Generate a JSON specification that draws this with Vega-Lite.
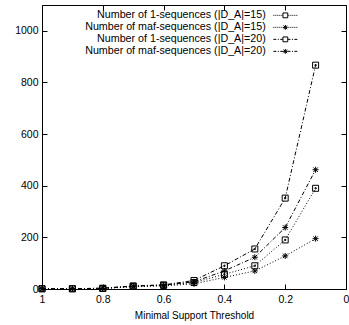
{
  "$schema": "https://vega.github.io/schema/vega-lite/v6.json",
  "width": 304,
  "height": 284,
  "autosize": {"type": "none"},
  "padding": {"left": 42, "top": 5, "right": 3, "bottom": 36},
  "background": "white",
  "config": {
    "view": {"stroke": "black", "strokeWidth": 1},
    "font": "Liberation Sans",
    "axis": {
      "domain": false, "grid": false, "tickSize": -5, "tickColor": "black", "tickWidth": 1,
      "labelFont": "Liberation Sans", "labelFontSize": 10.5, "labelColor": "black",
      "labelFlush": false, "labelOverlap": false,
      "titleFont": "Liberation Sans", "titleFontSize": 10, "titleFontWeight": "normal", "titleColor": "black"
    }
  },
  "data": {"values": [
    {"t": 1.0, "s": "Number of 1-sequences (|D_A|=15)", "n": 1},
    {"t": 0.9, "s": "Number of 1-sequences (|D_A|=15)", "n": 1},
    {"t": 0.8, "s": "Number of 1-sequences (|D_A|=15)", "n": 2},
    {"t": 0.7, "s": "Number of 1-sequences (|D_A|=15)", "n": 10},
    {"t": 0.6, "s": "Number of 1-sequences (|D_A|=15)", "n": 14},
    {"t": 0.5, "s": "Number of 1-sequences (|D_A|=15)", "n": 25},
    {"t": 0.4, "s": "Number of 1-sequences (|D_A|=15)", "n": 57},
    {"t": 0.3, "s": "Number of 1-sequences (|D_A|=15)", "n": 90},
    {"t": 0.2, "s": "Number of 1-sequences (|D_A|=15)", "n": 190},
    {"t": 0.1, "s": "Number of 1-sequences (|D_A|=15)", "n": 390},
    {"t": 1.0, "s": "Number of maf-sequences (|D_A|=15)", "n": 1},
    {"t": 0.9, "s": "Number of maf-sequences (|D_A|=15)", "n": 1},
    {"t": 0.8, "s": "Number of maf-sequences (|D_A|=15)", "n": 2},
    {"t": 0.7, "s": "Number of maf-sequences (|D_A|=15)", "n": 9},
    {"t": 0.6, "s": "Number of maf-sequences (|D_A|=15)", "n": 12},
    {"t": 0.5, "s": "Number of maf-sequences (|D_A|=15)", "n": 20},
    {"t": 0.4, "s": "Number of maf-sequences (|D_A|=15)", "n": 45},
    {"t": 0.3, "s": "Number of maf-sequences (|D_A|=15)", "n": 70},
    {"t": 0.2, "s": "Number of maf-sequences (|D_A|=15)", "n": 128},
    {"t": 0.1, "s": "Number of maf-sequences (|D_A|=15)", "n": 195},
    {"t": 1.0, "s": "Number of 1-sequences (|D_A|=20)", "n": 1},
    {"t": 0.9, "s": "Number of 1-sequences (|D_A|=20)", "n": 1},
    {"t": 0.8, "s": "Number of 1-sequences (|D_A|=20)", "n": 3},
    {"t": 0.7, "s": "Number of 1-sequences (|D_A|=20)", "n": 12},
    {"t": 0.6, "s": "Number of 1-sequences (|D_A|=20)", "n": 16},
    {"t": 0.5, "s": "Number of 1-sequences (|D_A|=20)", "n": 33},
    {"t": 0.4, "s": "Number of 1-sequences (|D_A|=20)", "n": 90},
    {"t": 0.3, "s": "Number of 1-sequences (|D_A|=20)", "n": 155},
    {"t": 0.2, "s": "Number of 1-sequences (|D_A|=20)", "n": 352},
    {"t": 0.1, "s": "Number of 1-sequences (|D_A|=20)", "n": 867},
    {"t": 1.0, "s": "Number of maf-sequences (|D_A|=20)", "n": 1},
    {"t": 0.9, "s": "Number of maf-sequences (|D_A|=20)", "n": 1},
    {"t": 0.8, "s": "Number of maf-sequences (|D_A|=20)", "n": 3},
    {"t": 0.7, "s": "Number of maf-sequences (|D_A|=20)", "n": 11},
    {"t": 0.6, "s": "Number of maf-sequences (|D_A|=20)", "n": 15},
    {"t": 0.5, "s": "Number of maf-sequences (|D_A|=20)", "n": 28},
    {"t": 0.4, "s": "Number of maf-sequences (|D_A|=20)", "n": 70},
    {"t": 0.3, "s": "Number of maf-sequences (|D_A|=20)", "n": 123},
    {"t": 0.2, "s": "Number of maf-sequences (|D_A|=20)", "n": 238},
    {"t": 0.1, "s": "Number of maf-sequences (|D_A|=20)", "n": 462}
  ]},
  "layer": [
    {
      "mark": {"type": "line", "stroke": "black", "strokeWidth": 1, "clip": true},
      "encoding": {
        "x": {"field": "t", "type": "quantitative",
              "scale": {"domain": [0, 1], "reverse": true, "nice": false},
              "axis": {"orient": "bottom", "values": [0, 0.2, 0.4, 0.6, 0.8, 1], "format": "~g",
                       "labelPadding": 10, "title": "Minimal Support Threshold", "titlePadding": 6}},
        "y": {"field": "n", "type": "quantitative",
              "scale": {"domain": [0, 1100], "nice": false},
              "axis": {"orient": "left", "values": [0, 200, 400, 600, 800, 1000], "format": "d", "labelPadding": 9, "title": null}},
        "strokeDash": {"field": "s", "type": "nominal", "legend": null,
          "scale": {"domain": ["Number of 1-sequences (|D_A|=15)", "Number of maf-sequences (|D_A|=15)", "Number of 1-sequences (|D_A|=20)", "Number of maf-sequences (|D_A|=20)"],
                    "range": [[1, 2], [1, 2], [4, 2, 1, 2], [4, 2, 1, 2]]}},
        "detail": {"field": "s", "type": "nominal"}
      }
    },
    {
      "mark": {"type": "point", "filled": false, "stroke": "black", "strokeWidth": 1, "size": 36, "opacity": 1},
      "encoding": {
        "x": {"field": "t", "type": "quantitative",
              "axis": {"orient": "top", "values": [0, 0.2, 0.4, 0.6, 0.8, 1], "labels": false, "title": null}},
        "y": {"field": "n", "type": "quantitative",
              "axis": {"orient": "right", "values": [0, 200, 400, 600, 800, 1000], "labels": false, "title": null}},
        "shape": {"field": "s", "type": "nominal", "legend": null,
          "scale": {"domain": ["Number of 1-sequences (|D_A|=15)", "Number of maf-sequences (|D_A|=15)", "Number of 1-sequences (|D_A|=20)", "Number of maf-sequences (|D_A|=20)"],
                    "range": ["M-1,-1H1V1H-1ZM-0.2,-0.2H0.2V0.2H-0.2Z", "M-1,0H1M0,-1V1M-0.75,-0.75L0.75,0.75M-0.75,0.75L0.75,-0.75", "M-1,-1H1V1H-1ZM-0.2,-0.2H0.2V0.2H-0.2Z", "M-1,0H1M0,-1V1M-0.75,-0.75L0.75,0.75M-0.75,0.75L0.75,-0.75"]}}
      }
    },
    {
      "mark": {"type": "point", "filled": false, "stroke": "black", "strokeWidth": 1, "opacity": 0},
      "encoding": {
        "shape": {"field": "s", "type": "nominal",
          "scale": {"domain": ["Number of 1-sequences (|D_A|=15)", "Number of maf-sequences (|D_A|=15)", "Number of 1-sequences (|D_A|=20)", "Number of maf-sequences (|D_A|=20)"],
                    "range": [
                      "M-4,0h0.33M-3.33,0h0.33M-2.67,0h0.33M-2,0h0.33M-1.33,0h0.33M1,0h0.33M1.67,0h0.33M2.33,0h0.33M3,0h0.33M3.67,0h0.33M-0.8,-0.8H0.8V0.8H-0.8Z",
                      "M-4,0h0.33M-3.33,0h0.33M-2.67,0h0.33M-2,0h0.33M-1.33,0h0.33M1,0h0.33M1.67,0h0.33M2.33,0h0.33M3,0h0.33M3.67,0h0.33M-0.8,0H0.8M0,-0.8V0.8M-0.6,-0.6L0.6,0.6M-0.6,0.6L0.6,-0.6",
                      "M-4,0h1M-2.5,0h0.33M-1.7,0H-0.8M0.8,0H1.7M2.2,0h0.33M3,0H4M-0.8,-0.8H0.8V0.8H-0.8Z",
                      "M-4,0h1M-2.5,0h0.33M-1.7,0H-0.8M0.8,0H1.7M2.2,0h0.33M3,0H4M-0.8,0H0.8M0,-0.8V0.8M-0.6,-0.6L0.6,0.6M-0.6,0.6L0.6,-0.6"
                    ]},
          "legend": {
            "orient": "none", "legendX": 238, "legendY": 5, "title": null,
            "labelAlign": "right", "labelOffset": -25, "labelFont": "Liberation Sans", "labelFontSize": 10.7, "labelColor": "black",
            "labelLimit": 300,
            "symbolSize": 36, "symbolStrokeWidth": 1, "symbolStrokeColor": "black", "symbolFillColor": "transparent", "symbolOpacity": 1,
            "rowPadding": 0, "padding": 0
          }}
      }
    }
  ],
  "resolve": {"axis": {"x": "independent", "y": "independent"}, "scale": {"shape": "independent"}}
}
